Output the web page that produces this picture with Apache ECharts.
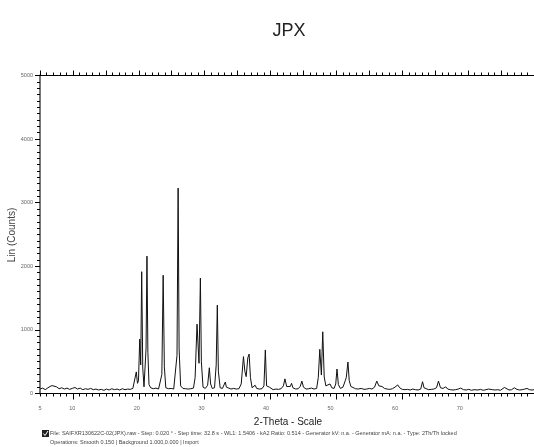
<!DOCTYPE html>
<html>
<head>
<meta charset="utf-8">
<script src="https://cdn.jsdelivr.net/npm/echarts@6/dist/echarts.min.js"></script>
<style>
  html, body { margin: 0; padding: 0; background: #fff; }
  #chart { width: 534px; height: 447px; }
</style>
</head>
<body>
<div id="chart"></div>
<script>
// scan: 2-theta (deg) and intensity (counts)
var angles = [
  5.0, 5.4, 5.8, 6.2, 6.5, 6.8, 7.1, 7.5, 7.9, 8.3, 8.7, 9.1, 9.5, 9.9, 10.3, 10.7, 11.1, 11.5, 11.9, 12.3,
  12.7, 13.1, 13.5, 13.9, 14.3, 14.7, 15.1, 15.5, 15.9, 16.3, 16.7, 17.1, 17.5, 17.9, 18.3, 18.7, 19.1, 19.35,
  19.62, 19.8, 19.95, 20.14, 20.29, 20.44, 20.6, 20.79, 20.95, 21.1, 21.24, 21.38, 21.55, 21.8, 22.2, 22.6,
  23.0, 23.3, 23.5, 23.7, 23.88, 24.1, 24.5, 24.9, 25.3, 25.6, 25.8, 25.97, 26.12, 26.35, 26.7, 27.1, 27.5,
  27.9, 28.3, 28.55, 28.84, 29.14, 29.35, 29.5, 29.75, 30.1, 30.45, 30.71, 30.9, 31.15, 31.5, 31.75, 31.92,
  32.08, 32.35, 32.7, 32.95, 33.13, 33.3, 33.6, 34.0, 34.4, 34.8, 35.2, 35.55, 35.89, 36.1, 36.3, 36.55, 36.75,
  36.95, 37.2, 37.45, 37.66, 37.9, 38.3, 38.7, 39.0, 39.21, 39.4, 39.6, 39.82, 40.0, 40.4, 40.8, 41.2, 41.6,
  41.95, 42.19, 42.45, 42.7, 43.0, 43.19, 43.4, 43.8, 44.2, 44.5, 44.76, 45.0, 45.4, 45.8, 46.21, 46.6, 47.0,
  47.25, 47.48, 47.72, 47.93, 48.15, 48.4, 48.7, 49.03, 49.3, 49.65, 49.9, 50.09, 50.3, 50.6, 51.0, 51.34,
  51.5, 51.75, 51.95, 52.2, 52.5, 52.9, 53.3, 53.76, 54.2, 54.6, 55.03, 55.4, 55.8, 56.13, 56.45, 56.93, 57.3,
  57.7, 58.1, 58.5, 58.9, 59.31, 59.6, 60.0, 60.4, 60.8, 61.2, 61.6, 62.0, 62.4, 62.8, 63.08, 63.3, 63.6, 64.0,
  64.4, 64.8, 65.2, 65.5, 65.8, 66.2, 66.6, 66.9, 67.3, 67.7, 68.1, 68.5, 68.87, 69.3, 69.7, 70.1, 70.5, 70.9,
  71.13, 71.5, 71.9, 72.3, 72.7, 73.1, 73.4, 73.7, 74.1, 74.5, 74.9, 75.2, 75.51, 75.8, 76.2, 76.6, 77.02,
  77.4, 77.8, 78.2, 78.6, 78.94, 79.3, 79.7, 80.0
];
var counts = [
  70, 85, 60, 90, 80, 125, 95, 105, 75, 90, 70, 85, 65, 80, 95, 70, 85, 60, 75, 65,
  80, 60, 70, 55, 65, 50, 70, 55, 75, 60, 70, 55, 75, 60, 70, 65, 80, 110,
  340, 160, 200, 855, 450, 1915, 400, 105, 130, 700, 2160, 650, 140, 90, 75, 85,
  70, 90, 300, 1860, 420, 90, 75, 80, 70, 100, 600, 3230, 700, 120, 80, 75, 70,
  75, 85, 250, 1090, 475, 1815, 500, 100, 80, 130, 405, 150, 80, 90, 450, 1390,
  350, 90, 80, 100, 180, 100, 75, 70, 80, 70, 75, 150, 580, 350, 265, 560, 620,
  250, 90, 80, 130, 80, 70, 75, 120, 685, 120, 90, 100, 70, 60, 70, 65, 75,
  120, 230, 110, 80, 110, 160, 90, 70, 75, 110, 195, 100, 70, 75, 85, 70, 80,
  250, 695, 290, 970, 260, 120, 90, 150, 90, 80, 150, 385, 140, 80, 100, 200,
  250, 495, 200, 110, 90, 75, 70, 80, 65, 70, 80, 70, 100, 195, 120, 110, 80,
  70, 65, 75, 100, 135, 90, 65, 60, 65, 55, 70, 60, 55, 70, 185, 90, 65, 60,
  65, 70, 90, 195, 90, 80, 105, 70, 60, 55, 60, 70, 85, 60, 55, 65, 50, 60,
  70, 55, 65, 50, 60, 70, 85, 60, 55, 60, 50, 70, 95, 65, 55, 60, 90,
  65, 55, 60, 70, 80, 60, 55, 60
];
var xLabelValues = [5, 10, 20, 30, 40, 50, 60, 70];
var xMajorTicks = [10, 20, 30, 40, 50, 60, 70, 80];
var xTopMajorTicks = [5, 10, 15, 20, 25, 30, 35, 40, 45, 50, 55, 60, 65, 70, 75, 80];

var scan = angles.map(function (a, i) { return [a, counts[i]]; });

var chart = echarts.init(document.getElementById('chart'));

var labelFont = { fontFamily: 'Liberation Sans, Arial, sans-serif', fontSize: 5.5, color: '#666' };

function plainX(extra) {
  return Object.assign({
    type: 'value',
    min: 5,
    max: 80,
    position: 'bottom',
    axisLine: { show: false },
    axisTick: { show: false },
    axisLabel: { show: false },
    splitLine: { show: false }
  }, extra);
}

chart.setOption({
  animation: false,
  backgroundColor: '#fff',
  grid: { left: 40, right: -3, top: 75.5, bottom: 53.5, containLabel: false },
  xAxis: [
    plainX({
      interval: 1,
      axisLine: { show: true, lineStyle: { color: '#000', width: 1 } },
      axisTick: { show: true, length: 3, lineStyle: { color: '#000' } }
    }),
    plainX({
      axisTick: { show: true, length: 6, customValues: xMajorTicks, lineStyle: { color: '#000' } }
    }),
    plainX({
      max: 81.5,
      axisLabel: Object.assign({ show: true, margin: 12, customValues: xLabelValues }, labelFont)
    }),
    plainX({
      position: 'top',
      interval: 1,
      axisLine: { show: true, lineStyle: { color: '#000', width: 1 } },
      axisTick: { show: true, length: 3, lineStyle: { color: '#000' } }
    }),
    plainX({
      position: 'top',
      axisTick: { show: true, length: 5, customValues: xTopMajorTicks, lineStyle: { color: '#000' } }
    })
  ],
  yAxis: {
    type: 'value',
    min: 0,
    max: 5000,
    interval: 1000,
    axisLine: { show: true, lineStyle: { color: '#777', width: 2 } },
    axisTick: { show: true, length: 5, lineStyle: { color: '#000' } },
    minorTick: { show: true, splitNumber: 10, length: 3, lineStyle: { color: '#000' } },
    axisLabel: Object.assign({ margin: 7, formatter: function (v) { return String(v); } }, labelFont),
    splitLine: { show: false }
  },
  series: [{
    type: 'line',
    xAxisIndex: 0,
    data: scan,
    showSymbol: false,
    lineStyle: { color: '#111', width: 1 }
  }],
  graphic: [
    { type: 'text', x: 289, y: 31,
      style: { text: 'JPX', fontSize: 18, fontFamily: 'Liberation Sans, Arial, sans-serif', fill: '#222', textAlign: 'center', textVerticalAlign: 'middle' } },
    { type: 'text', x: 288, y: 422,
      style: { text: '2-Theta - Scale', fontSize: 10, fontFamily: 'Liberation Sans, Arial, sans-serif', fill: '#222', textAlign: 'center', textVerticalAlign: 'middle' } },
    { type: 'text', x: 12, y: 235, rotation: Math.PI / 2,
      style: { text: 'Lin (Counts)', fontSize: 10, fontFamily: 'Liberation Sans, Arial, sans-serif', fill: '#444', textAlign: 'center', textVerticalAlign: 'middle' } },
    { type: 'rect', shape: { x: 42, y: 430, width: 7, height: 7 }, style: { fill: '#222' } },
    { type: 'polyline', shape: { points: [[43.5, 433.5], [45, 435.5], [48, 431]] }, style: { stroke: '#fff', lineWidth: 1, fill: null } },
    { type: 'text', x: 50, y: 433.5,
      style: { text: 'File: SAIFXR130622C-02(JPX).raw - Step: 0.020 \u00b0 - Step time: 32.8 s - WL1: 1.5406 - kA2 Ratio: 0.514 - Generator kV: n.a. - Generator mA: n.a. - Type: 2Th/Th locked',
        fontSize: 5.5, fontFamily: 'Liberation Sans, Arial, sans-serif', fill: '#444', textVerticalAlign: 'middle' } },
    { type: 'text', x: 50, y: 442,
      style: { text: 'Operations: Smooth 0.150 | Background 1.000,0.000 | Import',
        fontSize: 5.5, fontFamily: 'Liberation Sans, Arial, sans-serif', fill: '#444', textVerticalAlign: 'middle' } }
  ]
});
</script>
</body>
</html>
